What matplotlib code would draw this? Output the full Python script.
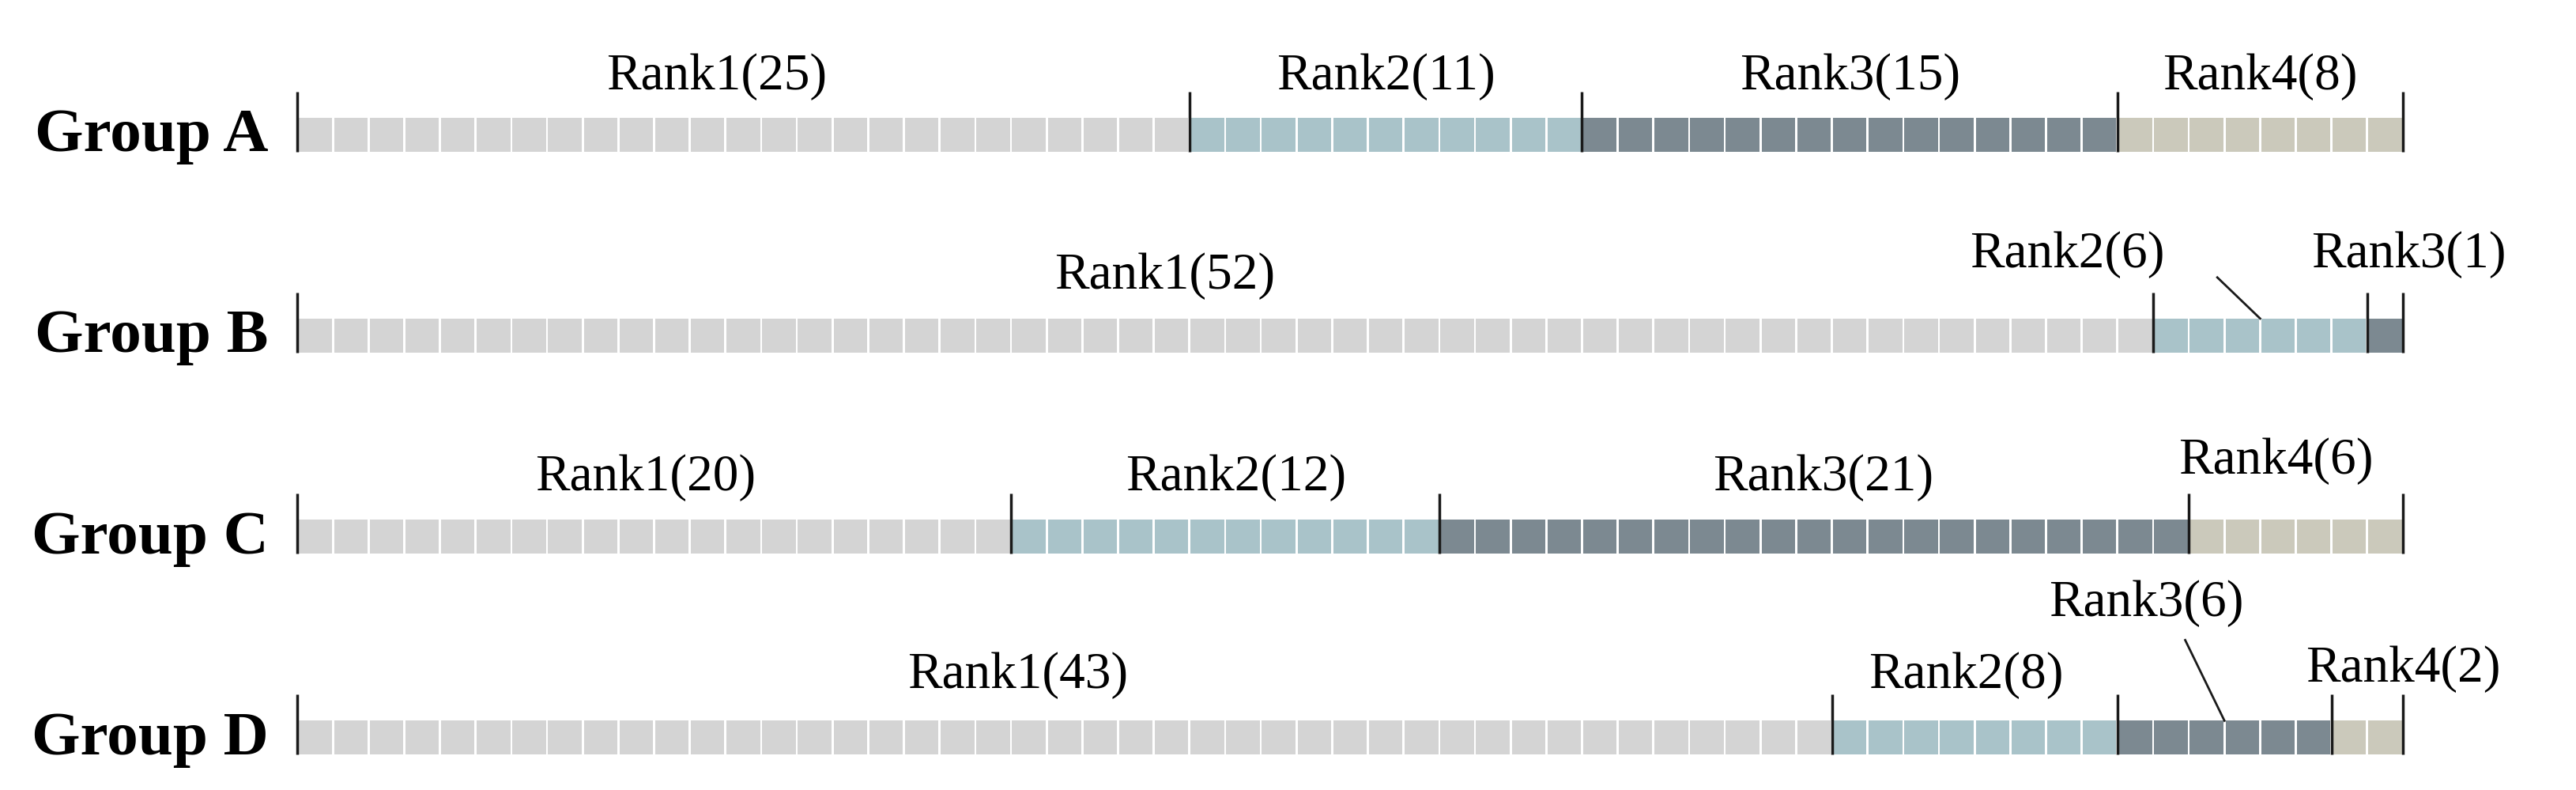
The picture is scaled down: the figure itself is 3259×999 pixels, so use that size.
import numpy as np
import matplotlib.pyplot as plt

# data
groups = ['Group A', 'Group B', 'Group C', 'Group D']
ranks = ['Rank1', 'Rank2', 'Rank3', 'Rank4']
counts = [
    [25, 11, 15, 8],
    [52, 6, 1, 0],
    [20, 12, 21, 6],
    [43, 8, 6, 2],
]
rank_colors = ['#d4d4d4', '#a9c3c9', '#7c8991', '#cbc9bb']

# label placement: (dx in cells from segment centre, height above bar in px)
label_pos = [
    [(-0.75, 51), (0, 51), (0, 51), (0, 51)],
    [(-1.7, 54), (-5.4, 81), (0.66, 81), None],
    [(-0.25, 53), (0.3, 53), (0.25, 53), (-0.55, 74)],
    [(-1.3, 57), (-0.25, 57), (-2.2, 148), (1.0, 65)],
]
# leader lines: (group, rank, start dx, start px above bar)
leaders = [(1, 1, -1.2, 52), (3, 2, -1.1, 102)]

plt.rcParams['font.family'] = ['Liberation Serif', 'DejaVu Serif']

fig = plt.figure(figsize=(32.59, 9.99), dpi=100)
ax = fig.add_axes([0, 0, 1, 1])
cell_px = (3040 - 376) / 59
pitch = 254.3
ax.set_xlim(-376 / cell_px, (3259 - 376) / cell_px)
ax.set_ylim((999 - 170) / pitch, -170 / pitch)
ax.axis('off')

bar_h = 43 / pitch
tick_h = 33 / pitch

for i, (g, row) in enumerate(zip(groups, counts)):
    cols = []
    for r, n in enumerate(row):
        cols += [rank_colors[r]] * n
    total = len(cols)
    ax.barh(i, 0.94, left=np.arange(total) + 0.03, height=bar_h,
            color=cols, linewidth=0)
    edges = np.unique(np.concatenate([[0], np.cumsum(row)]))
    ax.vlines(edges, i + bar_h / 2, i - bar_h / 2 - tick_h,
              color='#1a1a1a', linewidth=2.5)
    ax.text(-0.8, i + 0.01, g, ha='right', va='center',
            fontsize=57, fontweight='bold')
    start = 0
    for r, n in enumerate(row):
        if n == 0:
            continue
        dx, up = label_pos[i][r]
        cx = start + n / 2 + dx
        ax.text(cx, i - bar_h / 2 - up / pitch, f'{ranks[r]}({n})',
                ha='center', va='center', fontsize=47)
        start += n

for gi, ri, sdx, sup in leaders:
    row = counts[gi]
    s = sum(row[:ri])
    cx = s + row[ri] / 2
    ax.plot([cx + sdx, cx], [gi - bar_h / 2 - sup / pitch, gi - bar_h / 2],
            color='#1a1a1a', linewidth=2)

fig.savefig('out.png', dpi=100, facecolor='white')
